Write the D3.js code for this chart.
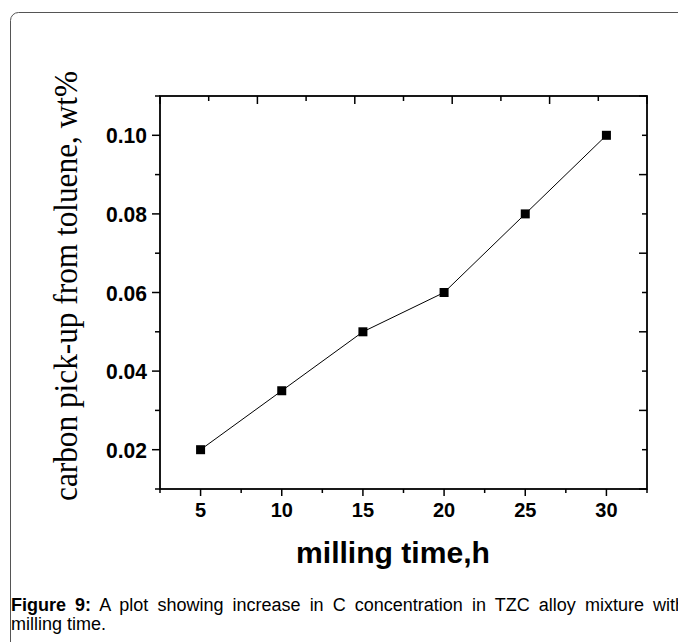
<!DOCTYPE html>
<html>
<head>
<meta charset="utf-8">
<script src="https://cdn.jsdelivr.net/npm/d3@7/dist/d3.min.js"></script>
<style>
  html, body { margin: 0; padding: 0; background: #fff; }
  svg { display: block; }
</style>
</head>
<body>
<svg id="chart" width="678" height="642"></svg>
<script>
// ---- data ----
const millingTime = [5, 10, 15, 20, 25, 30];
const carbonPickup = [0.02, 0.035, 0.05, 0.06, 0.08, 0.10];
const xTickValues = [5, 10, 15, 20, 25, 30];
const yTickValues = [0.02, 0.04, 0.06, 0.08, 0.10];
const xTitle = "milling time,h";
const yTitle = "carbon pick-up from toluene, wt%";
const captionBold = "Figure 9:";
const captionLine1 = " A plot showing increase in C concentration in TZC alloy mixture with";
const captionLine2 = "milling time.";

const svg = d3.select("#chart");

// outer rounded border
svg.append("rect")
  .attr("x", 10.5).attr("y", 12.5)
  .attr("width", 700).attr("height", 700)
  .attr("rx", 8).attr("ry", 8)
  .attr("fill", "none").attr("stroke", "#555").attr("stroke-width", 1);

const L = 160, R = 647, T = 96, B = 489;
const x = d3.scaleLinear().domain([2.5, 32.5]).range([L, R]);
const y = d3.scaleLinear().domain([0.01, 0.11]).range([B, T]);

const g = svg.append("g");

// frame
g.append("rect").attr("x", L).attr("y", T).attr("width", R - L).attr("height", B - T)
  .attr("fill", "none").attr("stroke", "#000").attr("stroke-width", 1.8);

const tickStroke = 1.5;
// bottom axis ticks (outward)
const xMinor = d3.range(2.5, 32.6, 5);
g.selectAll(".xmaj").data(xTickValues).join("line")
  .attr("x1", d => x(d)).attr("x2", d => x(d)).attr("y1", B).attr("y2", B + 7)
  .attr("stroke", "#000").attr("stroke-width", tickStroke);
g.selectAll(".xmin").data(xMinor).join("line")
  .attr("x1", d => x(d)).attr("x2", d => x(d)).attr("y1", B).attr("y2", B + 4)
  .attr("stroke", "#000").attr("stroke-width", tickStroke);

// left axis ticks (outward)
const yMinor = d3.range(0.01, 0.1101, 0.02);
g.selectAll(".ymaj").data(yTickValues).join("line")
  .attr("x1", L - 8).attr("x2", L).attr("y1", d => y(d)).attr("y2", d => y(d))
  .attr("stroke", "#000").attr("stroke-width", tickStroke);
g.selectAll(".ymin").data(yMinor).join("line")
  .attr("x1", L - 5).attr("x2", L).attr("y1", d => y(d)).attr("y2", d => y(d))
  .attr("stroke", "#000").attr("stroke-width", tickStroke);

// top axis ticks (inward, 10 equal divisions)
const topTicks = d3.range(0, 11).map(i => 2.5 + i * 3);
g.selectAll(".top").data(topTicks).join("line")
  .attr("x1", d => x(d)).attr("x2", d => x(d))
  .attr("y1", T).attr("y2", (d, i) => T + (i % 2 === 0 ? 8 : 5))
  .attr("stroke", "#000").attr("stroke-width", tickStroke);

// right axis ticks (inward)
const rightTicks = d3.range(0, 11).map(i => 0.01 + i * 0.01);
g.selectAll(".right").data(rightTicks).join("line")
  .attr("y1", d => y(d)).attr("y2", d => y(d))
  .attr("x1", R).attr("x2", (d, i) => R - (i % 2 === 0 ? 8 : 5))
  .attr("stroke", "#000").attr("stroke-width", tickStroke);

// tick labels
g.selectAll(".xl").data(xTickValues).join("text")
  .attr("x", d => x(d)).attr("y", 517)
  .attr("text-anchor", "middle")
  .attr("font-family", "Liberation Sans, Arial, sans-serif")
  .attr("font-weight", "bold").attr("font-size", 20)
  .text(d => d);
g.selectAll(".yl").data(yTickValues).join("text")
  .attr("x", 147).attr("y", d => y(d) + 8)
  .attr("text-anchor", "end")
  .attr("font-family", "Liberation Sans, Arial, sans-serif")
  .attr("font-weight", "bold").attr("font-size", 22)
  .attr("textLength", 41).attr("lengthAdjust", "spacingAndGlyphs")
  .text(d => d3.format(".2f")(d));

// line + markers
const pts = millingTime.map((t, i) => [t, carbonPickup[i]]);
g.append("path").datum(pts)
  .attr("d", d3.line().x(d => x(d[0])).y(d => y(d[1])))
  .attr("fill", "none").attr("stroke", "#000").attr("stroke-width", 1);
const ms = 9;
g.selectAll(".pt").data(pts).join("rect")
  .attr("x", d => x(d[0]) - ms / 2).attr("y", d => y(d[1]) - ms / 2)
  .attr("width", ms).attr("height", ms).attr("fill", "#000");

// axis titles
svg.append("text")
  .attr("x", 393).attr("y", 563)
  .attr("text-anchor", "middle")
  .attr("font-family", "Liberation Sans, Arial, sans-serif")
  .attr("font-weight", "bold").attr("font-size", 30)
  .attr("textLength", 194).attr("lengthAdjust", "spacingAndGlyphs")
  .text(xTitle);

svg.append("text")
  .attr("transform", "translate(77,286) rotate(-90)")
  .attr("text-anchor", "middle")
  .attr("font-family", "Liberation Serif, Times New Roman, serif")
  .attr("font-size", 34)
  .attr("textLength", 430).attr("lengthAdjust", "spacingAndGlyphs")
  .text(yTitle);

// caption (line 1 justified to the column width)
const cap = svg.append("text")
  .attr("x", 11).attr("y", 611)
  .attr("font-family", "Liberation Sans, Arial, sans-serif")
  .attr("font-size", 18);
cap.append("tspan").attr("font-weight", "bold").text(captionBold);
cap.append("tspan").text(captionLine1);
const targetEnd = 685;
const nat = cap.node().getComputedTextLength();
const nSpaces = (captionBold + captionLine1).split(" ").length - 1;
cap.attr("word-spacing", Math.max(0, (targetEnd - 11 - nat) / nSpaces));
svg.append("text")
  .attr("x", 11).attr("y", 630)
  .attr("font-family", "Liberation Sans, Arial, sans-serif")
  .attr("font-size", 18)
  .text(captionLine2);
</script>
</body>
</html>
